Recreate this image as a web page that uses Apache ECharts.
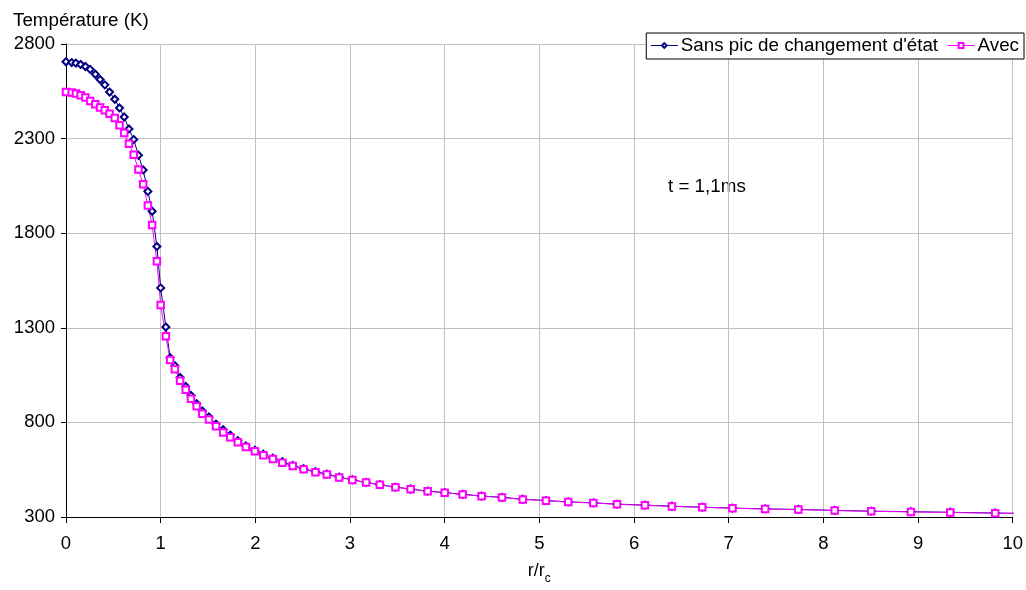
<!DOCTYPE html>
<html>
<head>
<meta charset="utf-8">
<script src="https://cdn.jsdelivr.net/npm/echarts@6/dist/echarts.min.js"></script>
<style>
html,body{margin:0;padding:0;background:#fff;overflow:hidden;}
#chart{width:1026px;height:590px;}
</style>
</head>
<body>
<div id="chart"></div>
<script>
// r / r_c positions of the computed points
var rValues = [0, 0.06, 0.105, 0.155, 0.205, 0.255, 0.31, 0.36, 0.41, 0.46,
  0.515, 0.565, 0.615, 0.665, 0.715, 0.765, 0.815, 0.865, 0.91, 0.96,
  1.0, 1.055, 1.1, 1.15, 1.205, 1.265, 1.32, 1.38, 1.44, 1.51,
  1.585, 1.66, 1.735, 1.815, 1.9, 1.995, 2.085, 2.185, 2.285, 2.395,
  2.51, 2.635, 2.755, 2.885, 3.025, 3.17, 3.315, 3.48, 3.64, 3.82,
  4.0, 4.19, 4.39, 4.605, 4.825, 5.07, 5.305, 5.57, 5.82, 6.115,
  6.4, 6.72, 7.04, 7.385, 7.735, 8.12, 8.505, 8.925, 9.34, 9.815,
  10.3];
// Temperature (K) without the phase-change peak
var tempSansPic = [2706, 2702, 2699, 2692, 2681, 2666, 2640, 2612, 2584, 2546,
  2508, 2462, 2414, 2351, 2295, 2212, 2134, 2021, 1916, 1730,
  1511, 1304, 1142, 1099, 1037, 990, 942, 899, 860, 829,
  791, 761, 733, 703, 676, 653, 632, 611, 592, 573,
  555, 540, 527, 511, 497, 483, 471, 458, 448, 437,
  429, 420, 411, 404, 394, 387, 380, 375, 368, 363,
  357, 352, 347, 343, 340, 335, 331, 328, 325, 321,
  318];
// Temperature (K) with the peak
var tempAvec = [2546, 2543, 2538, 2529, 2517, 2499, 2482, 2464, 2450, 2431,
  2409, 2370, 2330, 2273, 2215, 2137, 2059, 1946, 1843, 1652,
  1421, 1255, 1130, 1081, 1020, 973, 925, 885, 846, 815,
  779, 747, 721, 695, 670, 648, 627, 606, 587, 569,
  552, 537, 524, 509, 496, 482, 470, 457, 447, 436,
  428, 419, 410, 403, 393, 386, 379, 374, 367, 362,
  356, 351, 346, 342, 339, 334, 330, 327, 324, 320,
  317];
var seriesNames = ["Sans pic de changement d'état", "Avec"];
var yTitle = "Température (K)";
var annotation = "t = 1,1ms";

function pairs(xs, ys) {
  var out = [];
  for (var i = 0; i < xs.length; i++) out.push([xs[i], ys[i]]);
  return out;
}

var FONT = '"Liberation Sans", Arial, sans-serif';
var FS = 18.5;
var chart = echarts.init(document.getElementById('chart'), null, {renderer: 'canvas', width: 1026, height: 590});
chart.setOption({
  animation: false,
  backgroundColor: '#ffffff',
  textStyle: {fontFamily: FONT, color: '#000'},
  title: {
    text: yTitle, left: 8, top: 6,
    textStyle: {fontFamily: FONT, fontSize: 18.8, fontWeight: 'normal', color: '#000'}
  },
  grid: {left: 66, right: 13, top: 44, bottom: 67, containLabel: false},
  legend: {
    right: 2, top: 33,
    orient: 'horizontal',
    borderColor: '#000', borderWidth: 1, borderRadius: 0,
    backgroundColor: '#fff',
    padding: [3, 5, 4, 4],
    itemGap: 9, itemWidth: 27, itemHeight: 6,
    lineStyle: {width: 1},
    itemStyle: {borderWidth: 1},
    textStyle: {fontFamily: FONT, fontSize: 18.8, color: '#000', padding: [0, 0, 0, -2]},
    data: seriesNames
  },
  xAxis: {
    type: 'value', min: 0, max: 10, interval: 1,
    name: '{n|r/r}{s|c}', nameLocation: 'middle', nameGap: 45,
    nameTextStyle: {
      rich: {
        n: {fontFamily: FONT, fontSize: 18, color: '#000', lineHeight: 22, verticalAlign: 'top'},
        s: {fontFamily: FONT, fontSize: 12, color: '#000', padding: [11, 0, 0, 0]}
      }
    },
    axisLine: {show: true, onZero: false, lineStyle: {color: '#000', width: 1}},
    axisTick: {show: true, inside: false, length: 6, lineStyle: {color: '#000'}},
    axisLabel: {fontFamily: FONT, fontSize: FS, color: '#000', margin: 17},
    splitLine: {show: true, lineStyle: {color: '#c0c0c0', width: 1}}
  },
  yAxis: {
    type: 'value', min: 300, max: 2800, interval: 500,
    axisLine: {show: true, onZero: false, lineStyle: {color: '#000', width: 1}},
    axisTick: {show: true, inside: false, length: 5, lineStyle: {color: '#000'}},
    axisLabel: {fontFamily: FONT, fontSize: FS, color: '#000', margin: 11,
      formatter: function (v) { return String(v); }},
    splitLine: {show: true, lineStyle: {color: '#c0c0c0', width: 1}}
  },
  graphic: [{
    type: 'group', z: 50,
    children: [
      {type: 'rect', shape: {x: 648, y: 168, width: 112, height: 50}, style: {fill: '#fff'}},
      {type: 'text', x: 668, y: 187, style: {text: annotation, font: '18.8px ' + FONT, fill: '#000', textVerticalAlign: 'middle', verticalAlign: 'middle'}}
    ]
  }],
  series: [{
    name: seriesNames[0], type: 'line',
    data: pairs(rValues, tempSansPic),
    symbol: 'emptyDiamond', symbolSize: 7, showAllSymbol: true, clip: true,
    lineStyle: {color: '#000080', width: 1},
    itemStyle: {color: '#000080', borderColor: '#000080', borderWidth: 1}
  }, {
    name: seriesNames[1], type: 'line',
    data: pairs(rValues, tempAvec),
    symbol: 'emptyRect', symbolSize: 6.5, showAllSymbol: true, clip: true,
    lineStyle: {color: '#ff00ff', width: 1},
    itemStyle: {color: '#ff00ff', borderColor: '#ff00ff', borderWidth: 1}
  }]
});
</script>
</body>
</html>
